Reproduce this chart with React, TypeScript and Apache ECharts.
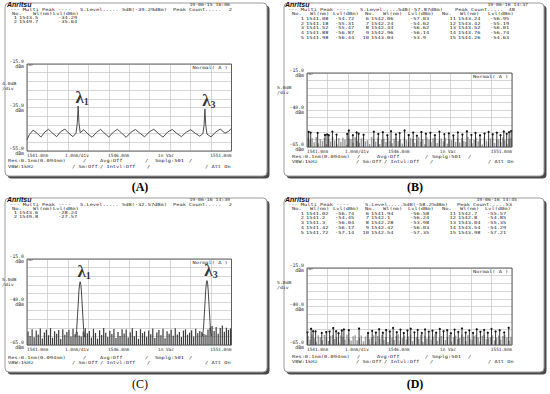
import React, { useEffect, useRef } from "react";
import * as echarts from "echarts";

// ---------------- data ----------------
const X_MIN = 1541;
const X_MAX = 1551;
const X_TICKS = [1541, 1546, 1551];
const X_TICK_LABELS = ["1541.0nm", "1546.0nm", "1551.0nm"];
const X_NOTES = ["1.0nm/div", "in Vac"];

const A_Y_TICKS = [-15, -35, -55];
const A_Y_LABELS = ["-15.0", "-35.0", "-55.0"];
const B_Y_TICKS = [-15, -40, -65];
const B_Y_LABELS = ["-15.0", "-40.0", "-65.0"];
const SCALE_TEXT = ["4.0dB", "5.0dB", "5.0dB", "5.0dB"];

const DATES = ["19-06-15 16:06", "19-06-16 14:37", "19-06-16 14:39", "19-06-16 14:45"];
const S_LEVELS = ["5dB(-39.29dBm)", "5dB(-57.87dBm)", "5dB(-32.57dBm)", "5dB(-58.25dBm)"];
const PEAK_COUNTS = ["2", "48", "2", "53"];
const PANEL_TAGS = ["(A)", "(B)", "(C)", "(D)"];
const PEAK_NAMES = ["1", "3"];

// (A) detected peaks and trace
const A_PEAKS: [number, number][] = [
  [1543.5, -34.29],
  [1549.7, -35.64],
];
const A_TRACE: [number, number][] = [
  [1541.0, -49.8], [1541.12, -47.4], [1541.3, -45.4], [1541.5, -46.9], [1541.68, -48.6],
  [1541.88, -46.2], [1542.05, -45.0], [1542.25, -46.8], [1542.45, -48.4], [1542.65, -46.1],
  [1542.85, -44.9], [1543.05, -46.9], [1543.25, -48.4], [1543.4, -46.8], [1543.46, -42.0],
  [1543.5, -34.29], [1543.54, -42.0], [1543.6, -46.6], [1543.78, -45.2], [1543.98, -47.2],
  [1544.18, -48.7], [1544.4, -46.4], [1544.6, -45.1], [1544.8, -46.9], [1545.0, -48.6],
  [1545.22, -46.3], [1545.42, -45.0], [1545.62, -46.7], [1545.85, -48.7], [1546.08, -46.4],
  [1546.3, -45.1], [1546.52, -46.8], [1546.75, -48.5], [1546.98, -46.2], [1547.2, -45.0],
  [1547.42, -46.9], [1547.65, -48.6], [1547.88, -46.3], [1548.1, -45.1], [1548.32, -46.9],
  [1548.55, -48.4], [1548.78, -46.4], [1549.0, -45.2], [1549.22, -46.8], [1549.45, -48.2],
  [1549.6, -47.0], [1549.66, -43.0], [1549.7, -35.64], [1549.74, -43.0], [1549.8, -47.2],
  [1550.0, -48.5], [1550.22, -46.3], [1550.45, -44.9], [1550.68, -46.8], [1550.85, -46.0],
  [1551.0, -44.6],
];

// (B) peak table (first 15 of 48) and the other detected peaks
const B_TABLE: [number, number][] = [
  [1541.08, -54.72], [1541.18, -55.31], [1541.52, -55.47], [1541.88, -56.87], [1541.98, -56.44],
  [1542.06, -57.03], [1542.24, -54.62], [1542.44, -56.62], [1542.96, -56.14], [1543.04, -53.9],
  [1543.24, -56.95], [1543.42, -55.19], [1543.52, -56.01], [1543.76, -56.74], [1544.26, -54.63],
];
const B_MORE: [number, number][] = [
  [1544.48, -56.2], [1544.7, -55.0], [1544.92, -57.1], [1545.1, -54.3], [1545.34, -56.5],
  [1545.52, -55.6], [1545.76, -53.8], [1545.96, -56.9], [1546.18, -55.2], [1546.36, -57.3],
  [1546.58, -54.9], [1546.8, -56.0], [1547.02, -55.4], [1547.24, -57.0], [1547.46, -54.6],
  [1547.7, -56.3], [1547.92, -55.8], [1548.14, -57.2], [1548.36, -55.1], [1548.58, -56.6],
  [1548.8, -54.4], [1549.02, -56.8], [1549.22, -55.5], [1549.44, -57.1], [1549.66, -55.9],
  [1549.86, -54.8], [1550.06, -56.4], [1550.26, -55.3], [1550.44, -57.0], [1550.6, -54.5],
  [1550.74, -56.1], [1550.86, -55.0], [1550.96, -54.2],
];
const B_NOISE = [
  -58.6, -60.2, -59.1, -61.8, -58.3, -62.5, -59.7, -60.9, -58.8, -63.1,
  -59.4, -61.2, -58.1, -60.6, -62.8, -59.0, -61.5, -58.7, -60.1, -63.4,
  -58.9, -59.8, -61.9, -58.4, -60.7, -62.2, -59.3, -58.6, -61.1, -60.4,
  -62.9, -58.2, -59.6, -61.4, -58.8, -63.0, -60.0, -59.2, -61.7, -58.5,
  -60.8, -62.4, -59.5, -58.3, -61.0, -59.9, -62.6, -58.7, -60.3, -61.6,
  -58.9, -59.4, -62.1, -60.5, -58.4, -61.3, -59.8, -63.2, -58.6, -60.0,
  -61.8, -59.1, -58.5, -62.3, -60.6, -59.3, -61.2, -58.8, -62.7, -59.7,
  -60.4, -58.2, -61.5, -59.0, -62.0, -58.9, -60.9, -61.4, -58.3, -59.6,
  -62.5, -60.2, -58.7, -61.1, -59.5, -63.3, -58.4, -60.7, -61.9, -59.2,
  -58.6, -62.2, -60.1, -59.8, -61.6, -58.5, -60.5, -62.8, -59.4, -58.9,
];

// (C) detected peaks, peak traces and noise floor
const C_PEAKS: [number, number][] = [
  [1543.6, -28.24],
  [1549.8, -27.57],
];
const C_TRACE1: [number, number][] = [
  [1543.38, -60.5], [1543.43, -56.0], [1543.47, -48.0], [1543.51, -40.0], [1543.54, -33.5],
  [1543.57, -29.6], [1543.6, -28.24], [1543.63, -29.6], [1543.66, -33.5], [1543.69, -40.0],
  [1543.73, -48.0], [1543.77, -56.0], [1543.82, -60.5],
];
const C_TRACE2: [number, number][] = [
  [1549.58, -60.0], [1549.63, -55.5], [1549.67, -47.5], [1549.71, -39.5], [1549.74, -33.0],
  [1549.77, -29.0], [1549.8, -27.57], [1549.83, -29.0], [1549.86, -33.0], [1549.89, -39.5],
  [1549.93, -47.5], [1549.97, -55.5], [1550.02, -60.0],
];
const C_NOISE = [
  -57.2, -59.8, -55.9, -60.5, -56.6, -58.9, -55.4, -61.2, -57.8, -56.1,
  -59.3, -55.2, -60.8, -57.0, -58.4, -56.3, -61.5, -55.8, -59.1, -57.5,
  -56.2, -60.1, -55.5, -58.7, -57.3, -59.5, -60.0, -57.1, -55.3, -58.2,
  -56.9, -60.7, -55.6, -58.0, -61.3, -56.4, -59.2, -55.1, -57.9, -60.3,
  -56.7, -58.6, -55.7, -61.0, -57.4, -59.7, -55.9, -58.3, -56.0, -60.6,
  -57.6, -55.3, -59.9, -56.8, -61.4, -55.8, -58.1, -57.2, -60.2, -56.5,
  -58.8, -55.4, -60.9, -57.7, -56.3, -59.4, -55.6, -61.1, -57.0, -58.5,
  -56.1, -59.6, -55.2, -58.9, -57.4, -60.4, -56.6, -55.9, -59.0, -57.8,
  -56.4, -60.0, -55.5, -58.2, -56.9, -57.5, -58.6, -59.0, -56.0, -55.0,
  -53.9, -56.8, -54.6, -58.4, -55.1, -53.6, -57.3, -54.9, -56.2, -55.4,
];

// (D) peak table (first 15 of 53) and the other detected peaks
const D_TABLE: [number, number][] = [
  [1541.02, -56.74], [1541.2, -54.45], [1541.3, -56.04], [1541.42, -56.17], [1541.72, -57.14],
  [1541.94, -56.58], [1542.1, -56.24], [1542.28, -53.98], [1542.42, -56.03], [1542.54, -57.35],
  [1542.7, -55.57], [1542.8, -54.85], [1543.04, -55.35], [1543.54, -54.29], [1543.98, -57.21],
];
const D_MORE: [number, number][] = [
  [1544.18, -55.8], [1544.36, -56.9], [1544.52, -54.7], [1544.7, -57.0], [1544.86, -55.3],
  [1545.04, -56.2], [1545.2, -53.9], [1545.38, -56.7], [1545.56, -55.0], [1545.72, -57.2],
  [1545.9, -55.6], [1546.06, -54.4], [1546.24, -56.8], [1546.4, -55.2], [1546.6, -57.1],
  [1546.76, -54.9], [1546.94, -56.3], [1547.12, -55.7], [1547.3, -57.0], [1547.48, -54.6],
  [1547.66, -56.1], [1547.84, -55.4], [1548.02, -57.3], [1548.2, -55.0], [1548.38, -56.5],
  [1548.56, -54.2], [1548.74, -56.9], [1548.92, -55.5], [1549.1, -57.1], [1549.28, -54.8],
  [1549.46, -56.4], [1549.64, -55.2], [1549.82, -57.0], [1550.0, -54.5], [1550.2, -56.2],
  [1550.4, -55.4], [1550.62, -56.8], [1550.84, -53.8],
];
const D_NOISE = [
  -59.1, -61.4, -58.2, -60.6, -62.9, -58.7, -59.9, -61.8, -58.4, -60.2,
  -62.3, -59.0, -58.5, -61.1, -60.0, -63.2, -58.8, -59.6, -61.5, -58.3,
  -60.7, -62.0, -59.3, -58.6, -61.9, -60.4, -58.9, -62.6, -59.5, -58.1,
  -61.2, -60.1, -58.7, -62.8, -59.2, -60.9, -58.4, -61.6, -59.8, -63.0,
  -58.5, -60.3, -61.7, -59.1, -58.2, -62.1, -60.5, -58.9, -61.3, -59.4,
  -58.6, -62.4, -60.0, -59.7, -61.0, -58.3, -63.1, -59.0, -60.8, -58.8,
  -61.4, -59.5, -58.1, -62.2, -60.6, -59.2, -58.7, -61.8, -60.2, -58.4,
  -62.7, -59.9, -58.9, -61.1, -60.4, -58.2, -59.6, -62.5, -58.6, -60.9,
  -61.6, -59.3, -58.5, -60.1, -62.9, -59.0, -58.3, -61.2, -60.7, -59.8,
  -58.7, -62.0, -60.3, -58.9, -61.5, -59.1, -58.4, -60.0, -62.3, -59.6,
];

// ---------------- layout ----------------
const MONO = "'DejaVu Sans Mono', 'Liberation Mono', monospace";
const SANS = "'Liberation Sans', Arial, sans-serif";
const SERIF = "'Liberation Serif', 'Times New Roman', serif";
const INK = "#2b2b2b";
const FS = 4.2; // instrument text size
const SX = 1.27; // horizontal stretch of the instrument font

const GRIDS = [
  { left: 27, top: 64, width: 204.5, height: 87 },
  { left: 307, top: 73, width: 205, height: 74 },
  { left: 27, top: 259, width: 204.5, height: 86 },
  { left: 307, top: 268, width: 205, height: 77 },
];
const FRAMES = [
  { x: 5, y: 3, w: 262, h: 173 },
  { x: 284, y: 3, w: 260, h: 173 },
  { x: 5, y: 198, w: 262, h: 174 },
  { x: 284, y: 198, w: 260, h: 174 },
];

function txt(x: number, y: number, text: string, size: number, o: any = {}) {
  return {
    type: "text",
    x,
    y,
    z: 20,
    silent: true,
    scaleX: o.sx || 1,
    style: {
      text,
      fill: o.fill || INK,
      fontSize: size,
      fontFamily: o.family || MONO,
      fontWeight: o.weight || "normal",
      fontStyle: o.style || "normal",
      align: o.align || "left",
      verticalAlign: "middle",
    },
  };
}
const it = (x: number, y: number, s: string, align = "left") => txt(x, y, s, FS, { sx: SX, align });

function fmtRow(p: [number, number]) {
  return [String(p[0]), String(p[1])];
}

// header for the 2-peak screens (A, C)
function headerSmall(i: number, dy: number, peaks: [number, number][]) {
  const out: any[] = [];
  out.push(txt(7, 4 + dy, "Anritsu", 7, { family: SANS, weight: "bold", style: "italic", fill: "#111" }));
  out.push(txt(230, 4.2 + dy, DATES[i], FS, { sx: 1.15, align: "right" }));
  out.push(it(10, 9.2 + dy, "--- Multi Peak ----"));
  out.push(it(80, 9.2 + dy, "S.Level....."));
  out.push(it(122, 9.2 + dy, S_LEVELS[i]));
  out.push(it(173, 9.2 + dy, "Peak Count....."));
  out.push(it(232, 9.2 + dy, PEAK_COUNTS[i], "right"));
  out.push(it(12, 13.5 + dy, "No."));
  out.push(it(33, 13.5 + dy, "Wl(nm)"));
  out.push(it(53, 13.5 + dy, "Lvl(dBm)"));
  peaks.forEach((p, k) => {
    const [w, l] = fmtRow(p);
    const y = 17.7 + 4.2 * k + dy;
    out.push(it(17, y, String(k + 1), "right"));
    out.push(it(19, y, w));
    out.push(it(58, y, l));
  });
  return out;
}

// header for the 15-row table screens (B, D)
function headerBig(i: number, dy: number, table: [number, number][], dateRight: number, lvlX: number[], sx: number[], countRight: number, rowY0: number, rowDy: number) {
  const out: any[] = [];
  out.push(txt(285, 4 + dy, "Anritsu", 7, { family: SANS, weight: "bold", style: "italic", fill: "#111" }));
  out.push(txt(dateRight, 4.2 + dy, DATES[i], FS, { sx: 1.15, align: "right" }));
  out.push(it(sx[0], 9.2 + dy, "--- Multi Peak ----"));
  out.push(it(sx[1], 9.2 + dy, "S.Level....."));
  out.push(it(sx[2], 9.2 + dy, S_LEVELS[i]));
  out.push(it(sx[3], 9.2 + dy, "Peak Count....."));
  out.push(it(countRight, 9.2 + dy, PEAK_COUNTS[i], "right"));
  const noX = [292, 365, 442];
  const wlX = [310, 383, 460];
  const numR = [304, 369, 456];
  const wX = [306, 371, 458];
  for (let c = 0; c < 3; c++) {
    out.push(it(noX[c], rowY0 - rowDy + dy, "No."));
    out.push(it(wlX[c], rowY0 - rowDy + dy, "Wl(nm)"));
    out.push(it(lvlX[c] - 2, rowY0 - rowDy + dy, "Lvl(dBm)"));
  }
  table.forEach((p, k) => {
    const c = Math.floor(k / 5);
    const r = k % 5;
    const y = rowY0 + rowDy * r + dy;
    const [w, l] = fmtRow(p);
    out.push(it(numR[c], y, String(k + 1), "right"));
    out.push(it(wX[c], y, w));
    out.push(it(lvlX[c], y, l));
  });
  return out;
}

function footer(items1: [number, string][], items2: [number, string][], y1: number, y2: number) {
  return [...items1.map(([x, s]) => it(x, y1, s)), ...items2.map(([x, s]) => it(x, y2, s))];
}

const FOOT_SMALL_1: [number, string][] = [[8, "Res:0.1nm(0.094nm)"], [83, "/"], [100, "Avg:Off"], [145, "/"], [155, "Smplg:501"], [189, "/"]];
const FOOT_SMALL_2: [number, string][] = [[8, "VBW:1kHz"], [72, "/ Sm:Off"], [100, "/ Intvl:Off"], [147, "/"], [205, "/ Att On"]];
const FOOT_BIG_1: [number, string][] = [[292, "Res:0.1nm(0.094nm)"], [357, "/"], [377, "Avg:Off"], [425, "/"], [432, "Smplg:501"], [468, "/"]];
const FOOT_BIG_2: [number, string][] = [[292, "VBW:1kHz"], [356, "/ Sm:Off"], [384, "/ Intvl:Off"], [430, "/"], [488, "/ Att On"]];

function xAxisCfg(g: number) {
  return {
    type: "value",
    gridIndex: g,
    min: X_MIN,
    max: X_MAX,
    interval: 1,
    z: 2,
    axisLine: { show: false },
    axisTick: { show: false },
    splitLine: { show: true, lineStyle: { color: "#c6c6c6", width: 0.7 } },
    axisLabel: {
      show: true,
      margin: 2.3,
      fontSize: 4.4,
      lineHeight: 4.4,
      fontFamily: MONO,
      color: INK,
      align: "right",
      alignMinLabel: "left",
      alignMaxLabel: "right",
      verticalAlign: "top",
      formatter: (v: number) => {
        const k = X_TICKS.findIndex((t) => Math.abs(t - v) < 1e-6);
        return k >= 0 ? X_TICK_LABELS[k] : "";
      },
    },
  };
}

function yAxisCfg(g: number, min: number, interval: number, ticks: number[], labels: string[]) {
  return {
    type: "value",
    gridIndex: g,
    min,
    max: -15,
    interval,
    z: 2,
    axisLine: { show: false },
    axisTick: { show: false },
    splitLine: { show: true, lineStyle: { color: "#c6c6c6", width: 0.7 } },
    axisLabel: {
      show: true,
      margin: 3,
      fontSize: 4.8,
      lineHeight: 5,
      fontFamily: MONO,
      color: INK,
      align: "right",
      verticalAlign: "middle",
      formatter: (v: number) => {
        const k = ticks.findIndex((t) => Math.abs(t - v) < 1e-6);
        return k >= 0 ? `${labels[k]}\ndBm` : "";
      },
    },
  };
}

function barLines(g: number, data: [number, number][], floor: number, color: string, width: number, dot: boolean) {
  return {
    type: "custom",
    xAxisIndex: g,
    yAxisIndex: g,
    silent: true,
    z: 3,
    encode: { x: 0, y: 1 },
    data,
    renderItem: (_p: any, api: any) => {
      const x = api.value(0);
      const y = api.value(1);
      const top = api.coord([x, y]);
      const bot = api.coord([x, floor]);
      const children: any[] = [
        { type: "line", shape: { x1: top[0], y1: top[1], x2: bot[0], y2: bot[1] }, style: { stroke: color, lineWidth: width } },
      ];
      if (dot) children.push({ type: "circle", shape: { cx: top[0], cy: top[1], r: 1.1 }, style: { fill: "#111" } });
      return { type: "group", children };
    },
  };
}

function lambdaSeries(g: number, peaks: [number, number][], dist: number) {
  return {
    type: "scatter",
    xAxisIndex: g,
    yAxisIndex: g,
    silent: true,
    z: 6,
    symbolSize: 1,
    itemStyle: { color: "rgba(0,0,0,0)" },
    data: peaks.map((p, k) => ({
      value: p,
      label: {
        show: true,
        position: "top",
        distance: dist,
        offset: [4, 0],
        formatter: `{l|λ}{s|${PEAK_NAMES[k]}}`,
        rich: {
          l: { fontFamily: SERIF, fontSize: 17, fontWeight: "bold", color: "#000" },
          s: { fontFamily: SERIF, fontSize: 10, fontWeight: "bold", color: "#000", verticalAlign: "bottom", padding: [6, 0, 0, 0] },
        },
      },
    })),
  };
}

function noisePts(vals: number[]): [number, number][] {
  return vals.map((v, i) => [X_MIN + 0.05 + i * 0.1, v]);
}

export default function App() {
  const ref = useRef<HTMLDivElement>(null);
  useEffect(() => {
    document.body.style.margin = "0";
    if (!ref.current) return;
    const chart = echarts.init(ref.current, null, { renderer: "svg" });

    const graphics: any[] = [];
    FRAMES.forEach((f) => {
      graphics.push({ type: "rect", z: 0, silent: true, shape: { x: f.x + 2.5, y: f.y + 2.5, width: f.w, height: f.h, r: 4 }, style: { fill: "#4a4a4a" } });
      graphics.push({ type: "rect", z: 1, silent: true, shape: { x: f.x, y: f.y, width: f.w, height: f.h, r: 4 }, style: { fill: "#fff", stroke: "#9c9c9c", lineWidth: 1 } });
    });
    GRIDS.forEach((g) => {
      graphics.push({ type: "rect", z: 15, silent: true, shape: { x: g.left, y: g.top, width: g.width, height: g.height }, style: { fill: "none", stroke: "#505050", lineWidth: 0.9 } });
      graphics.push(txt(g.left + 1.5, g.top + 1.8, "mkr", 2.6));
      graphics.push(txt(g.left + g.width - 39, g.top + 4, "Normal( A )", FS, { sx: SX }));
      // axis notes
      const ny = g.top + g.height + 4.6;
      graphics.push(txt(g.left + (g.left < 100 ? 38 : 38), ny, X_NOTES[0], 4.4));
      graphics.push(txt(g.left + (g.left < 100 ? 131 : 133), ny, X_NOTES[1], 4.4));
    });
    graphics.push(...headerSmall(0, 0, A_PEAKS));
    graphics.push(...headerSmall(2, 195, C_PEAKS));
    graphics.push(...headerBig(1, 0, B_TABLE, 528, [335, 410, 490], [288, 360, 398, 455], 515, 18.5, 4.7));
    graphics.push(...headerBig(3, 195, D_TABLE, 517, [335, 410, 487], [288, 365, 403, 457], 512, 18.3, 4.8));
    const divPos = [[2, 84], [277, 88], [2, 280], [277, 283]];
    divPos.forEach(([x, y], i) => {
      graphics.push(txt(x, y, SCALE_TEXT[i], FS, { sx: 1.15 }));
      graphics.push(txt(x, y + 5, "/div", FS, { sx: 1.15 }));
    });
    graphics.push(...footer(FOOT_SMALL_1, FOOT_SMALL_2, 160.8, 166.2));
    graphics.push(...footer(FOOT_BIG_1, FOOT_BIG_2, 156.3, 162));
    graphics.push(...footer(FOOT_SMALL_1, FOOT_SMALL_2, 357.2, 362.8));
    graphics.push(...footer(FOOT_BIG_1, FOOT_BIG_2, 356.3, 362));
    const tagPos = [[140, 187], [415, 187], [140, 384], [415, 384]];
    tagPos.forEach(([x, y], i) => {
      graphics.push(txt(x, y, PANEL_TAGS[i], 12, { family: SERIF, weight: i === 2 ? "normal" : "bold", align: "center", fill: "#000" }));
    });

    const option: any = {
      animation: false,
      backgroundColor: "#ffffff",
      grid: GRIDS.map((g) => ({ ...g, containLabel: false, show: false })),
      xAxis: [0, 1, 2, 3].map((g) => xAxisCfg(g)),
      yAxis: [
        yAxisCfg(0, -55, 4, A_Y_TICKS, A_Y_LABELS),
        yAxisCfg(1, -65, 5, B_Y_TICKS, B_Y_LABELS),
        yAxisCfg(2, -65, 5, B_Y_TICKS, B_Y_LABELS),
        yAxisCfg(3, -65, 5, B_Y_TICKS, B_Y_LABELS),
      ],
      series: [
        {
          type: "line",
          xAxisIndex: 0,
          yAxisIndex: 0,
          data: A_TRACE,
          showSymbol: false,
          silent: true,
          z: 4,
          lineStyle: { color: "#3a3a3a", width: 0.9 },
        },
        lambdaSeries(0, A_PEAKS, -1),
        barLines(1, noisePts(B_NOISE), -65, "#9a9a9a", 1.4, false),
        barLines(1, [...B_TABLE, ...B_MORE], -65, "#222", 0.9, true),
        barLines(2, noisePts(C_NOISE), -65, "#3c3c3c", 1.2, false),
        {
          type: "line",
          xAxisIndex: 2,
          yAxisIndex: 2,
          data: C_TRACE1,
          showSymbol: false,
          silent: true,
          z: 4,
          lineStyle: { color: "#333", width: 0.9 },
        },
        {
          type: "line",
          xAxisIndex: 2,
          yAxisIndex: 2,
          data: C_TRACE2,
          showSymbol: false,
          silent: true,
          z: 4,
          lineStyle: { color: "#333", width: 0.9 },
        },
        lambdaSeries(2, C_PEAKS, 1),
        barLines(3, noisePts(D_NOISE), -65, "#9a9a9a", 1.4, false),
        barLines(3, [...D_TABLE, ...D_MORE], -65, "#222", 0.9, true),
      ],
      graphic: { elements: graphics },
    };
    chart.setOption(option);
    return () => chart.dispose();
  }, []);
  return <div ref={ref} style={{ width: 550, height: 394 }} />;
}
